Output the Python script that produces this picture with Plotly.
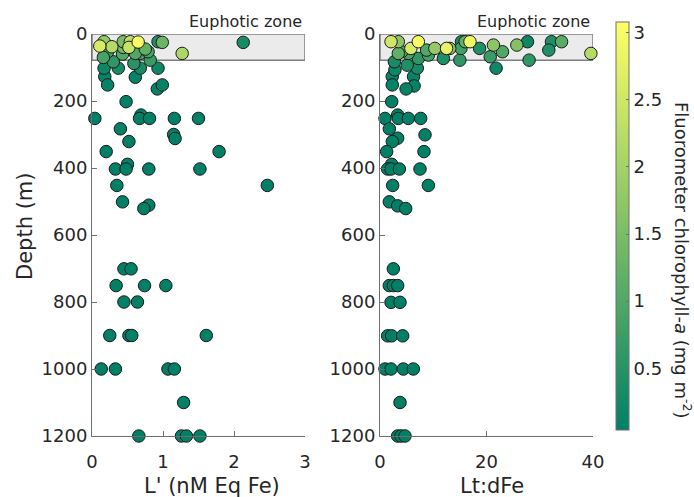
import numpy as np
import plotly.graph_objects as go

# ---------------- data ----------------
# Left panel: L' (nM Eq Fe) vs depth, coloured by fluorometer chlorophyll-a
left_depth = [23, 36, 23, 23, 24, 23, 25, 53, 70, 60, 40, 58, 45, 53, 58, 78, 58, 25, 40, 38, 40,
              83, 102, 88, 102, 129, 102, 127, 152, 102, 164, 152, 202,
              252, 242, 252, 252, 252, 252, 283, 300, 312, 321, 351, 351, 389, 403, 403, 403, 403,
              452, 452, 501, 511, 521, 701, 701, 751, 751, 751, 800, 800, 900, 900, 900, 900,
              1000, 1000, 1000, 1000, 1100, 1200, 1200, 1200, 1200]
left_L = [0.17, 0.11, 0.44, 0.54, 0.65, 0.93, 0.99, 0.22, 0.16, 0.43, 0.61, 0.61, 0.75, 0.79, 0.68, 0.82, 1.27, 2.13, 0.44, 0.28, 0.52,
          0.30, 0.37, 0.59, 0.68, 0.61, 0.17, 0.18, 0.22, 0.93, 0.92, 0.99, 0.48,
          0.04, 0.69, 0.67, 0.81, 1.16, 1.50, 0.40, 1.15, 1.17, 0.52, 0.20, 1.79, 0.50, 0.33, 0.48, 0.80, 1.52,
          2.47, 0.35, 0.43, 0.80, 0.73, 0.45, 0.55, 0.34, 0.74, 1.04, 0.45, 0.64, 0.25, 0.52, 0.56, 1.61,
          0.13, 0.33, 1.07, 1.16, 1.29, 0.66, 1.26, 1.33, 1.52]
left_chl = [1.8, 2.6, 1.5, 2.3, 3.0, 0.4, 1.3, 0.8, 0.9, 1.0, 0.7, 1.0, 1.2, 0.9, 0.8, 0.7, 2.1, 0.3, 1.4, 2.2, 2.4,
            0.6, 0.3, 0.5, 0.3, 0.1, 0.2, 0.1, 0.1, 0.2, 0.1, 0.1, 0.05,
            0.05, 0.05, 0.05, 0.05, 0.05, 0.05, 0.05, 0.05, 0.05, 0.05, 0.05, 0.05, 0.05, 0.05, 0.05, 0.05, 0.05,
            0.05, 0.05, 0.05, 0.05, 0.05, 0.05, 0.05, 0.05, 0.05, 0.05, 0.05, 0.05, 0.05, 0.05, 0.05, 0.05,
            0.05, 0.05, 0.05, 0.05, 0.05, 0.05, 0.05, 0.05, 0.05]

# Right panel: Lt:dFe vs depth
right_depth = [23, 23, 23, 43, 53, 58, 58, 48, 43, 63, 73, 43, 43, 23, 23, 23, 43, 73, 78, 43, 33, 68, 53, 102,
               33, 23, 78, 23, 23, 48, 58,
               83, 107, 93, 102, 127, 127, 152, 155, 164, 202,
               252, 242, 252, 252, 252, 283, 301, 311, 321, 351, 351, 389, 403, 403, 403, 403, 452, 452,
               501, 513, 521, 701, 751, 751, 751, 801, 801, 901, 901, 901, 1000, 1000, 1000, 1000, 1100,
               1200, 1200, 1200]
right_ratio = [2.07, 3.44, 7.2, 5.8, 4.07, 3.44, 5.3, 8.76, 10.3, 9.1, 7.2, 12.5, 13.1, 15.3, 16.0, 16.9, 15.2, 11.9, 15.0, 18.7, 21.3, 20.7, 23.0, 21.8,
               25.7, 27.7, 28.0, 32.2, 34.1, 31.7, 39.6,
               2.7, 2.8, 5.1, 7.0, 2.3, 6.3, 2.3, 6.4, 4.9, 2.2,
               0.94, 3.32, 3.44, 5.32, 7.64, 1.75, 8.45, 3.32, 2.32, 1.25, 8.26, 2.19, 1.44, 2.07, 3.63, 7.51, 2.38, 9.08,
               1.75, 3.32, 4.82, 2.50, 1.75, 2.50, 3.32, 2.07, 3.76, 1.44, 2.19, 4.26, 0.94, 2.07, 4.38, 6.26, 3.76,
               3.32, 3.94, 4.69]
right_chl = [2.5, 1.7, 3.0, 2.6, 1.0, 1.2, 0.9, 1.0, 1.8, 0.8, 0.6, 2.8, 1.7, 0.3, 1.2, 2.9, 0.8, 0.4, 0.6, 0.4, 1.7, 0.7, 1.0, 0.2,
             1.6, 0.2, 0.6, 0.4, 1.1, 0.4, 2.2,
             0.3, 0.2, 0.4, 0.3, 0.1, 0.1, 0.1, 0.1, 0.1, 0.05,
             0.05, 0.05, 0.05, 0.05, 0.05, 0.05, 0.05, 0.05, 0.05, 0.05, 0.05, 0.05, 0.05, 0.05, 0.05, 0.05, 0.05, 0.05,
             0.05, 0.05, 0.05, 0.05, 0.05, 0.05, 0.05, 0.05, 0.05, 0.05, 0.05, 0.05, 0.05, 0.05, 0.05, 0.05, 0.05,
             0.05, 0.05, 0.05]

euphotic_depth = 78
left_xticks = [0, 1, 2, 3]
right_xticks = [0, 20, 40]
depth_ticks = [0, 200, 400, 600, 800, 1000, 1200]
cbar_ticks = [0.5, 1, 1.5, 2, 2.5, 3]

# ---------------- figure ----------------
W, H = 694, 497
FONT = "DejaVu Sans"
TXT = "#262626"
AX = "#6e6e6e"

def px(x):
    return x / W

def py(y):
    return 1 - y / H

summer = [[0, "rgb(0,128,102)"], [1, "rgb(255,255,102)"]]

fig = go.Figure()

def add_panel(xv, yv, cv, xa, ya):
    order = np.argsort(np.array(cv), kind="stable")
    fig.add_trace(go.Scatter(
        x=np.array(xv)[order], y=np.array(yv)[order], mode="markers",
        xaxis=xa, yaxis=ya, cliponaxis=False, showlegend=False,
        marker=dict(size=12.5, color=np.array(cv)[order], coloraxis="coloraxis",
                    line=dict(color="#1a1a1a", width=1), opacity=1),
    ))

add_panel(left_L, left_depth, left_chl, "x", "y")
add_panel(right_ratio, right_depth, right_chl, "x2", "y2")

ydom = [py(436), py(34)]
axis_common = dict(showgrid=False, zeroline=False, showline=True, linecolor=AX, linewidth=1,
                   ticks="inside", ticklen=5, tickcolor=AX, mirror=False,
                   tickfont=dict(family=FONT, size=18, color=TXT), automargin=False)

fig.update_layout(
    width=W, height=H,
    margin=dict(l=0, r=0, t=0, b=0),
    paper_bgcolor="white", plot_bgcolor="white",
    font=dict(family=FONT, color=TXT),
    xaxis=dict(domain=[px(92), px(305)], range=[0, 3], tickvals=left_xticks, anchor="y",
               ticklabelstandoff=9, **axis_common),
    yaxis=dict(domain=ydom, range=[1200, 0], tickvals=depth_ticks, anchor="x",
               ticklabelstandoff=0, **axis_common),
    xaxis2=dict(domain=[px(380), px(593)], range=[0, 40], tickvals=right_xticks, anchor="y2",
                ticklabelstandoff=9, **axis_common),
    yaxis2=dict(domain=ydom, range=[1200, 0], tickvals=depth_ticks, anchor="x2",
                ticklabelstandoff=0, **axis_common),
    coloraxis=dict(
        colorscale=summer, cmin=0.04, cmax=3.08,
        colorbar=dict(
            x=px(616), xanchor="left", xpad=0, y=py(22), yanchor="top", ypad=0,
            thickness=13, thicknessmode="pixels", len=408, lenmode="pixels",
            outlinewidth=1, outlinecolor=AX, tickvals=cbar_ticks,
            ticktext=["0.5", "1", "1.5", "2", "2.5", "3"],
            ticks="inside", ticklen=3, tickcolor=AX,
            tickfont=dict(family=FONT, size=18, color=TXT),
        ),
    ),
)

# Euphotic zone rectangles
for xr, yr, x1 in (("x", "y", 3), ("x2", "y2", 40)):
    fig.add_shape(type="rect", xref=xr, yref=yr, x0=0, x1=x1, y0=0, y1=euphotic_depth,
                  fillcolor="#ebebeb", line=dict(color="#7f7f7f", width=1.5), layer="below")
    fig.add_annotation(xref=xr, yref=yr, x=x1, y=0, xanchor="right", yanchor="bottom",
                       text="Euphotic zone", showarrow=False, yshift=1, xshift=-1,
                       font=dict(family=FONT, size=16, color=TXT))

# Axis titles
fig.add_annotation(xref="paper", yref="paper", x=px(25), y=py(227), text="Depth (m)",
                   textangle=-90, showarrow=False, xanchor="center", yanchor="middle",
                   font=dict(family=FONT, size=21, color=TXT))
fig.add_annotation(xref="paper", yref="paper", x=px(212), y=py(486), text="L' (nM Eq Fe)",
                   showarrow=False, xanchor="center", yanchor="middle",
                   font=dict(family=FONT, size=21, color=TXT))
fig.add_annotation(xref="paper", yref="paper", x=px(492), y=py(486), text="Lt:dFe",
                   showarrow=False, xanchor="center", yanchor="middle",
                   font=dict(family=FONT, size=21, color=TXT))
fig.add_annotation(xref="paper", yref="paper", x=px(683), y=py(260),
                   text="Fluorometer chlorophyll-<i>a</i> (mg m<sup>-2</sup>)",
                   textangle=90, showarrow=False, xanchor="center", yanchor="middle",
                   font=dict(family=FONT, size=18, color=TXT))

fig.write_html("out.html", config={"displayModeBar": False},
               post_script="document.body.style.margin='0';document.body.style.padding='0';")
